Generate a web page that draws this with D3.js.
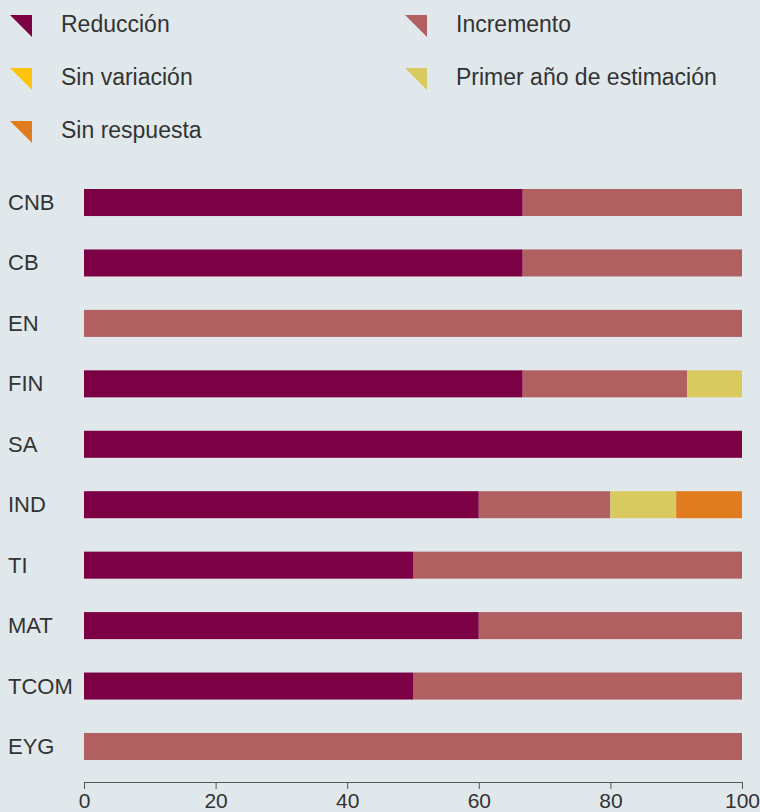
<!DOCTYPE html>
<html>
<head>
<meta charset="utf-8">
<script src="https://cdn.jsdelivr.net/npm/d3@7/dist/d3.min.js"></script>
<style>
  html, body { margin: 0; padding: 0; background: #e0e8ec; }
  svg { display: block; }
  text { font-family: "Liberation Sans", Arial, sans-serif; fill: #333; }
</style>
</head>
<body>
<div id="chart"></div>
<script>
const categories = ["CNB", "CB", "EN", "FIN", "SA", "IND", "TI", "MAT", "TCOM", "EYG"];
const seriesNames = ["Reducción", "Incremento", "Sin variación", "Primer año de estimación", "Sin respuesta"];
const reduccion   = [66.67, 66.67, 0, 66.67, 100, 60, 50, 60, 50, 0];
const incremento  = [33.33, 33.33, 100, 25, 0, 20, 50, 40, 50, 100];
const sinVariacion = [0, 0, 0, 0, 0, 0, 0, 0, 0, 0];
const primerAnio  = [0, 0, 0, 8.33, 0, 10, 0, 0, 0, 0];
const sinRespuesta = [0, 0, 0, 0, 0, 10, 0, 0, 0, 0];
const xTicks = [0, 20, 40, 60, 80, 100];
const colors = ["#7b0044", "#b06060", "#ffc20e", "#d8ca5e", "#e07b1e"];

const W = 760, H = 812;
const svg = d3.select("#chart").append("svg").attr("width", W).attr("height", H);

const seriesVals = [reduccion, incremento, sinVariacion, primerAnio, sinRespuesta];
const keys = ["r", "i", "s", "p", "n"];
const table = categories.map((c, j) => {
  const o = { cat: c };
  keys.forEach((k, i) => o[k] = seriesVals[i][j]);
  return o;
});
const stacked = d3.stack().keys(keys)(table);

const x = d3.scaleLinear().domain([0, 100]).range([84, 742]);
const y = d3.scaleBand().domain(categories).range([172.3, 776.7]).paddingInner(0.553).paddingOuter(0.2765);

const color = d3.scaleOrdinal().domain(keys).range(colors);

svg.append("g").selectAll("g").data(stacked).join("g")
  .attr("fill", d => color(d.key))
  .selectAll("rect").data(d => d).join("rect")
  .attr("x", d => x(d[0]))
  .attr("y", d => y(d.data.cat))
  .attr("width", d => x(d[1]) - x(d[0]))
  .attr("height", y.bandwidth());

// category labels
svg.append("g").selectAll("text").data(categories).join("text")
  .attr("x", 8)
  .attr("y", d => y(d) + y.bandwidth() / 2 + 7.5)
  .attr("font-size", 22)
  .text(d => d);

// x axis
const axis = svg.append("g").attr("transform", "translate(0,782)")
  .call(d3.axisBottom(x).tickValues(xTicks).tickSize(7).tickSizeOuter(0).tickFormat(d3.format("d")));
axis.select(".domain").attr("stroke", "#555");
axis.selectAll(".tick line").attr("stroke", "#555");
axis.selectAll(".tick text").attr("font-size", 21).attr("fill", "#333")
  .attr("font-family", "'Liberation Sans', Arial, sans-serif")
  .attr("y", 11).attr("dy", "0.71em");

// legend
const legendPos = [
  { i: 0, tx: 10, ty: 15 },
  { i: 1, tx: 405, ty: 15 },
  { i: 2, tx: 10, ty: 68 },
  { i: 3, tx: 405, ty: 68 },
  { i: 4, tx: 10, ty: 121 }
];
const lg = svg.append("g").selectAll("g").data(legendPos).join("g")
  .attr("transform", d => `translate(${d.tx},${d.ty})`);
lg.append("path")
  .attr("d", "M0,0 L22,0 L22,22 Z")
  .attr("fill", d => colors[d.i]);
lg.append("text")
  .attr("x", 51)
  .attr("y", 17)
  .attr("font-size", 23)
  .text(d => seriesNames[d.i]);
</script>
</body>
</html>
